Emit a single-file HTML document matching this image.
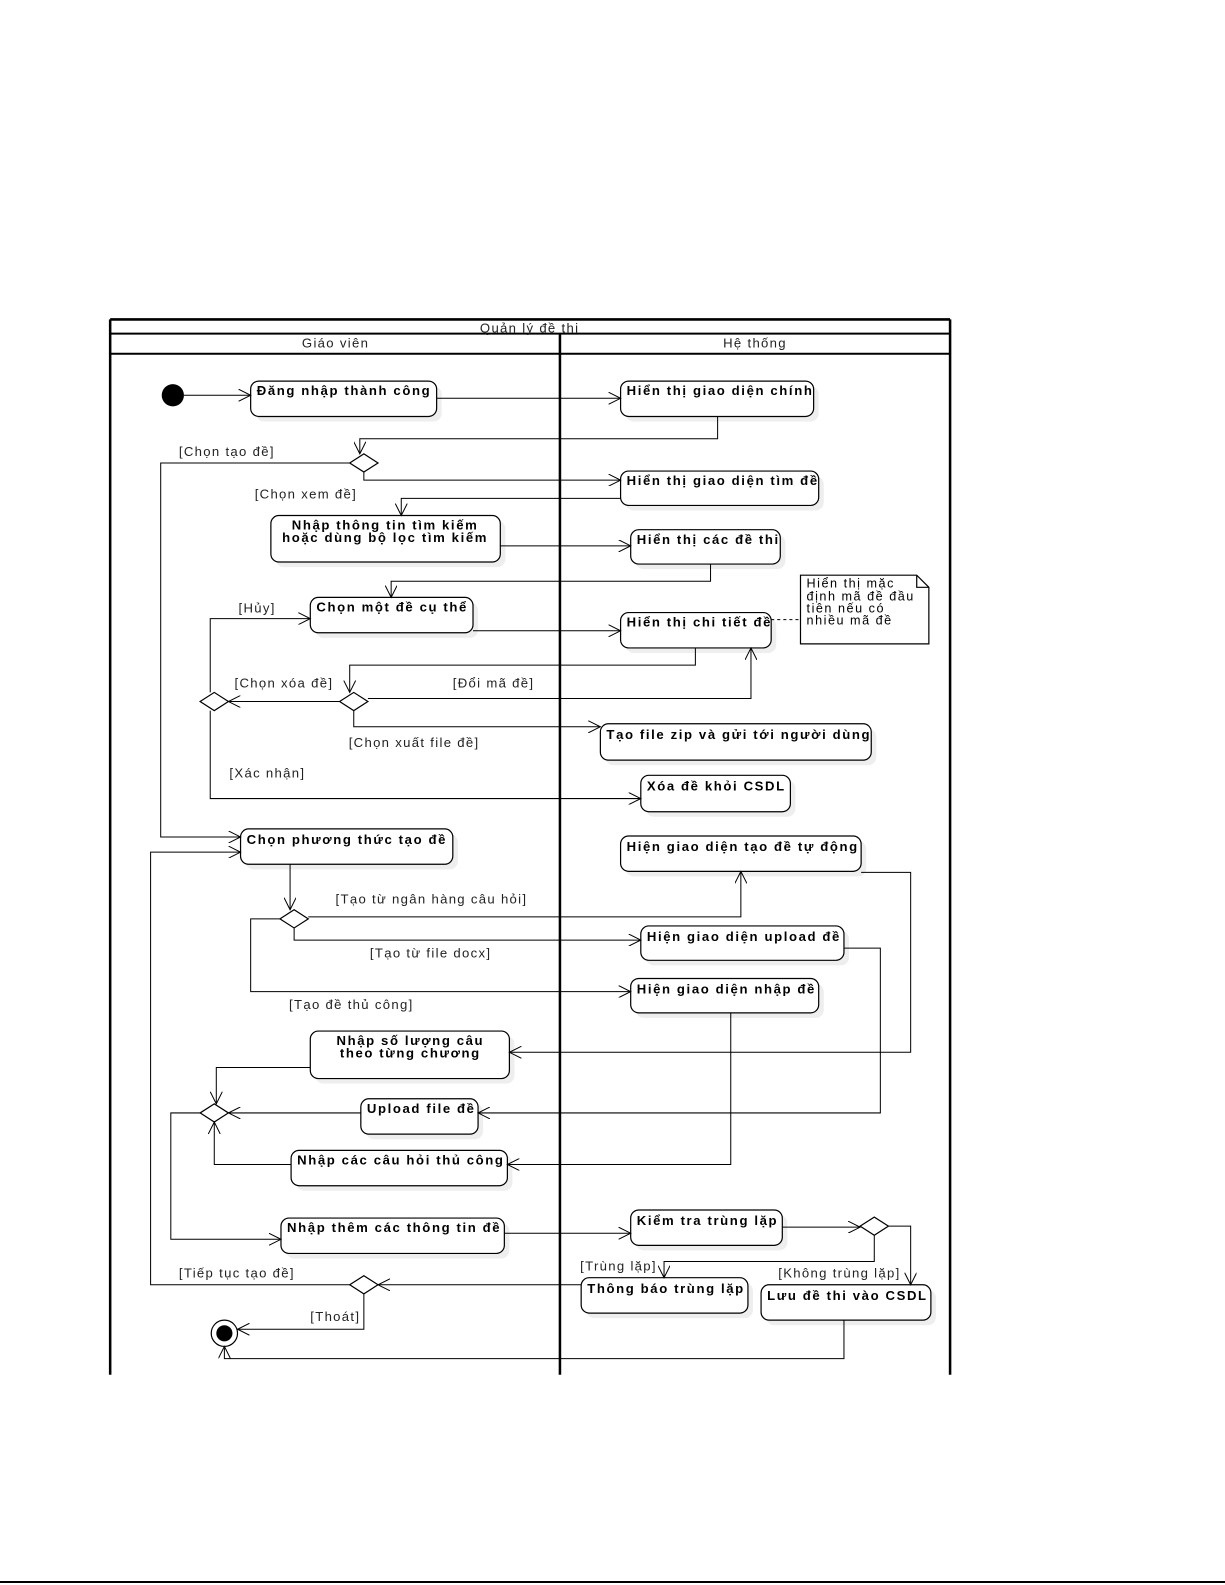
<!DOCTYPE html>
<html><head><meta charset="utf-8"><style>
html,body{margin:0;padding:0;background:#fff;}
svg{display:block;}
text{font-family:"Liberation Sans",sans-serif;}
.b{font-weight:bold;font-size:13px;fill:#000;letter-spacing:1.6px;}
.l{font-size:13px;fill:#222;letter-spacing:1.3px;}
.n{font-size:12.5px;fill:#000;letter-spacing:1.5px;}
</style></head><body>
<svg width="1225" height="1585" viewBox="0 0 1212 1568" preserveAspectRatio="none" xmlns="http://www.w3.org/2000/svg">
<defs>
<marker id="a" markerWidth="14" markerHeight="12" refX="12" refY="6" orient="auto" markerUnits="userSpaceOnUse">
<polyline points="0,0 12,6 0,12" fill="none" stroke="#000" stroke-width="1"/>
</marker>
</defs>
<line x1="0" y1="1565" x2="1212" y2="1565" stroke="#000" stroke-width="2"/>
<g stroke="#000" fill="none">
<line x1="109" y1="316" x2="940" y2="316" stroke-width="2.5"/>
<line x1="109" y1="316" x2="109" y2="1360" stroke-width="2.5"/>
<line x1="940" y1="316" x2="940" y2="1360" stroke-width="2.5"/>
<line x1="109" y1="330" x2="940" y2="330" stroke-width="2"/>
<line x1="109" y1="350" x2="940" y2="350" stroke-width="2"/>
<line x1="554" y1="330" x2="554" y2="1360" stroke-width="2.5"/>
</g>
<text x="524" y="329" class="l" text-anchor="middle" font-size="12">Quản lý đề thi</text>
<text x="332" y="344" class="l" text-anchor="middle">Giáo viên</text>
<text x="747" y="344" class="l" text-anchor="middle">Hệ thống</text>

<g fill="#eee" stroke="none">
<rect x="253" y="382" width="184" height="35" rx="8"/>
<rect x="619" y="382" width="191" height="35" rx="8"/>
<rect x="619" y="471" width="196" height="34" rx="8"/>
<rect x="273" y="515" width="227" height="46" rx="8"/>
<rect x="629" y="529" width="148" height="34" rx="8"/>
<rect x="312" y="596" width="161" height="35" rx="8"/>
<rect x="619" y="611" width="149" height="35" rx="8"/>
<rect x="599" y="721" width="268" height="36" rx="8"/>
<rect x="639" y="772" width="148" height="36" rx="8"/>
<rect x="243" y="825" width="210" height="35" rx="8"/>
<rect x="619" y="832" width="238" height="35" rx="8"/>
<rect x="639" y="921" width="201" height="34" rx="8"/>
<rect x="629" y="973" width="186" height="34" rx="8"/>
<rect x="312" y="1025" width="197" height="47" rx="8"/>
<rect x="362" y="1092" width="116" height="35" rx="8"/>
<rect x="293" y="1143" width="214" height="35" rx="8"/>
<rect x="283" y="1210" width="221" height="35" rx="8"/>
<rect x="629" y="1202" width="150" height="35" rx="8"/>
<rect x="580" y="1269" width="165" height="35" rx="8"/>
<rect x="758" y="1276" width="168" height="35" rx="8"/>
</g>
<g fill="#fff" stroke="#000" stroke-width="1.2">
<rect x="248" y="377" width="184" height="35" rx="8"/>
<rect x="614" y="377" width="191" height="35" rx="8"/>
<rect x="614" y="466" width="196" height="34" rx="8"/>
<rect x="268" y="510" width="227" height="46" rx="8"/>
<rect x="624" y="524" width="148" height="34" rx="8"/>
<rect x="307" y="591" width="161" height="35" rx="8"/>
<rect x="614" y="606" width="149" height="35" rx="8"/>
<rect x="594" y="716" width="268" height="36" rx="8"/>
<rect x="634" y="767" width="148" height="36" rx="8"/>
<rect x="238" y="820" width="210" height="35" rx="8"/>
<rect x="614" y="827" width="238" height="35" rx="8"/>
<rect x="634" y="916" width="201" height="34" rx="8"/>
<rect x="624" y="968" width="186" height="34" rx="8"/>
<rect x="307" y="1020" width="197" height="47" rx="8"/>
<rect x="357" y="1087" width="116" height="35" rx="8"/>
<rect x="288" y="1138" width="214" height="35" rx="8"/>
<rect x="278" y="1205" width="221" height="35" rx="8"/>
<rect x="624" y="1197" width="150" height="35" rx="8"/>
<rect x="575" y="1264" width="165" height="35" rx="8"/>
<rect x="753" y="1271" width="168" height="35" rx="8"/>
<path d="M792,569 H907 L919,581 V637 H792 Z M907,569 V581 H919" />
</g>
<g>
<text x="254" y="391" class="b">Đăng nhập thành công</text>
<text x="620" y="391" class="b">Hiển thị giao diện chính</text>
<text x="620" y="480" class="b">Hiển thị giao diện tìm đề</text>
<text x="381" y="524" class="b" text-anchor="middle">Nhập thông tin tìm kiếm</text>
<text x="381" y="536" class="b" text-anchor="middle">hoặc dùng bộ lọc tìm kiếm</text>
<text x="630" y="538" class="b">Hiển thị các đề thi</text>
<text x="313" y="605" class="b">Chọn một đề cụ thể</text>
<text x="620" y="620" class="b">Hiển thị chi tiết đề</text>
<text x="600" y="731" class="b">Tạo file zip và gửi tới người dùng</text>
<text x="640" y="782" class="b">Xóa đề khỏi CSDL</text>
<text x="244" y="835" class="b">Chọn phương thức tạo đề</text>
<text x="620" y="842" class="b">Hiện giao diện tạo đề tự động</text>
<text x="640" y="931" class="b">Hiện giao diện upload đề</text>
<text x="630" y="983" class="b">Hiện giao diện nhập đề</text>
<text x="406" y="1034" class="b" text-anchor="middle">Nhập số lượng câu</text>
<text x="406" y="1046" class="b" text-anchor="middle">theo từng chương</text>
<text x="363" y="1101" class="b">Upload file đề</text>
<text x="294" y="1152" class="b">Nhập các câu hỏi thủ công</text>
<text x="284" y="1219" class="b">Nhập thêm các thông tin đề</text>
<text x="630" y="1212" class="b">Kiểm tra trùng lặp</text>
<text x="581" y="1279" class="b">Thông báo trùng lặp</text>
<text x="759" y="1286" class="b">Lưu đề thi vào CSDL</text>
</g>
<text x="798" y="581" class="n">Hiển thị mặc</text>
<text x="798" y="594" class="n">định mã đề đầu</text>
<text x="798" y="606" class="n">tiên nếu có</text>
<text x="798" y="618" class="n">nhiều mã đề</text>
<line x1="763" y1="613" x2="792" y2="613" stroke="#000" stroke-dasharray="3,3"/>

<circle cx="171" cy="391" r="11" fill="#000"/>
<circle cx="222" cy="1319" r="13" fill="#fff" stroke="#000" stroke-width="1.2"/>
<circle cx="222" cy="1319" r="8" fill="#000"/>
<g fill="#fff" stroke="#000" stroke-width="1.2">
<polygon points="346,458 360,449 374,458 360,467"/>
<polygon points="336,694 350,685 364,694 350,703"/>
<polygon points="198,694 212,685 226,694 212,703"/>
<polygon points="277,909 291,900 305,909 291,918"/>
<polygon points="198,1101 212,1092 226,1101 212,1110"/>
<polygon points="851,1213 865,1204 879,1213 865,1222"/>
<polygon points="346,1271 360,1262 374,1271 360,1280"/>
</g>

<g fill="none" stroke="#000" stroke-width="1" marker-end="url(#a)">
<path d="M182,391 H248"/>
<path d="M432,394 H614"/>
<path d="M710,412 V434 H356 V449"/>
<path d="M346,458 H159 V828 H238"/>
<path d="M360,467 V475 H614"/>
<path d="M614,493 H397 V510"/>
<path d="M495,540 H624"/>
<path d="M703,558 V575 H387 V591"/>
<path d="M208,685 V612 H307"/>
<path d="M208,703 V790 H634"/>
<path d="M468,624 H614"/>
<path d="M688,641 V658 H346 V685"/>
<path d="M364,691 H743 V641"/>
<path d="M336,694 H226"/>
<path d="M350,703 V719 H594"/>
<path d="M287,855 V900"/>
<path d="M305,907 H733 V862"/>
<path d="M291,918 V930 H634"/>
<path d="M277,909 H248 V981 H624"/>
<path d="M852,863 H901 V1041 H504"/>
<path d="M835,938 H871 V1101 H473"/>
<path d="M723,1002 V1152 H502"/>
<path d="M307,1056 H214 V1092"/>
<path d="M357,1101 H226"/>
<path d="M288,1152 H212 V1110"/>
<path d="M198,1101 H169 V1226 H278"/>
<path d="M499,1220 H624"/>
<path d="M774,1214 H851"/>
<path d="M879,1213 H901 V1271"/>
<path d="M865,1222 V1248 H657 V1264"/>
<path d="M575,1271 H374"/>
<path d="M346,1271 H149 V843 H238"/>
<path d="M360,1280 V1315 H235"/>
<path d="M835,1306 V1344 H222 V1332"/>
</g>

<g class="l">
<text x="177" y="451">[Chọn tạo đề]</text>
<text x="252" y="493">[Chọn xem đề]</text>
<text x="236" y="606">[Hủy]</text>
<text x="232" y="680">[Chọn xóa đề]</text>
<text x="448" y="680">[Đổi mã đề]</text>
<text x="345" y="739">[Chọn xuất file đề]</text>
<text x="227" y="769">[Xác nhận]</text>
<text x="332" y="894">[Tạo từ ngân hàng câu hỏi]</text>
<text x="366" y="947">[Tạo từ file docx]</text>
<text x="286" y="998">[Tạo đề thủ công]</text>
<text x="177" y="1264">[Tiếp tục tạo đề]</text>
<text x="574" y="1257">[Trùng lặp]</text>
<text x="770" y="1264">[Không trùng lặp]</text>
<text x="307" y="1307">[Thoát]</text>
</g>
</svg>
</body></html>
